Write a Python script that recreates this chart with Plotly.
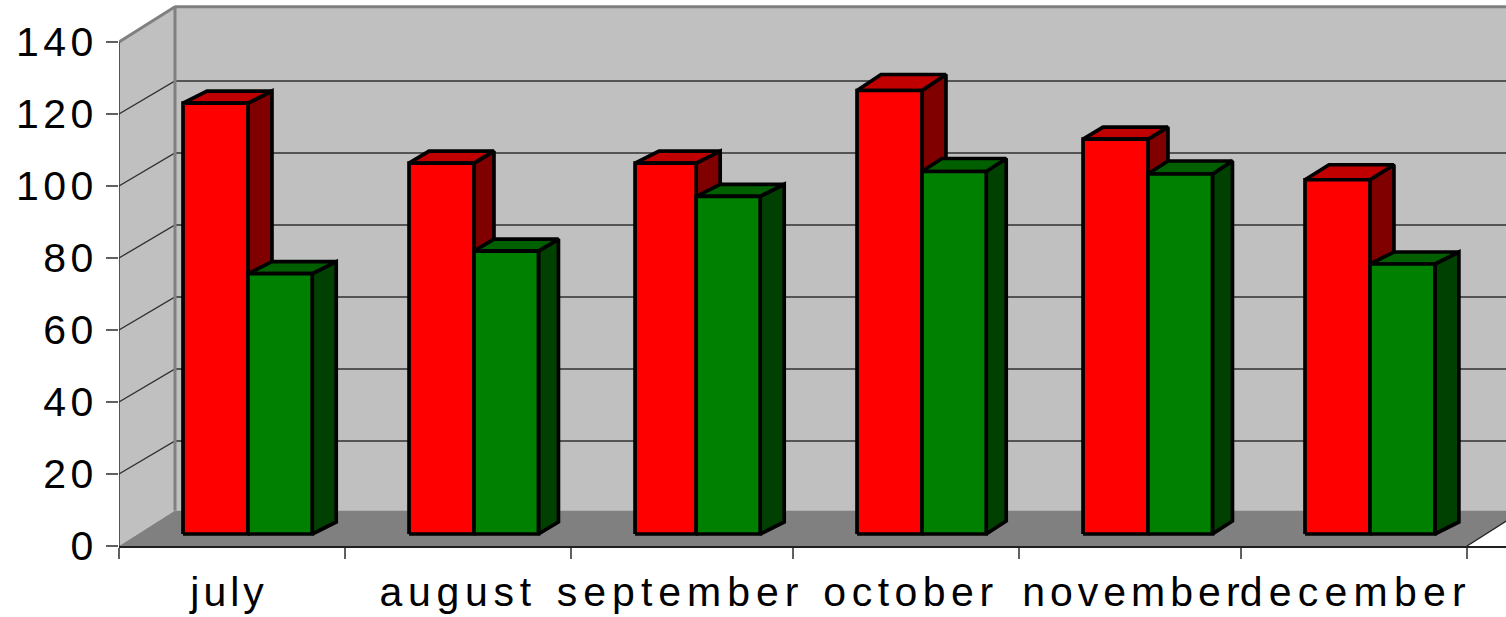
import plotly.graph_objects as go

# Data
months = ["july", "august", "september", "october", "november", "december"]
red_values = [119.7, 103, 103, 123.2, 109.7, 98.4]
green_values = [72.3, 78.6, 93.8, 100.7, 100, 75]
y_ticks = [0, 20, 40, 60, 80, 100, 120, 140]

# Category boundaries and bar geometry, in category units
cat_edges = [0, 1.006, 2.012, 3, 4.006, 4.994, 6]
label_pos = [0.49, 1.51, 2.50, 3.525, 4.515, 5.505]
bar_offset = 0.285
red_widths = [0.289, 0.289, 0.272, 0.289, 0.289, 0.289]
green_widths = [0.286, 0.287, 0.285, 0.286, 0.287, 0.289]

# Perspective offsets (pixels of depth, converted through the axis scales)
PX_X = 1348 / 6
PX_Y = 3.6
red_depth_x = [24, 20, 24, 24, 20, 24]
green_depth_x = [24, 20, 24, 20, 20, 24]
red_depth_y = [12, 12, 12, 16, 12, 15]
green_depth_y = [12, 12, 12, 13, 13, 12]
wall_dx, wall_dy = 56 / PX_X, 35.5 / PX_Y
grid_dy = 33 / PX_Y
bar_base = 12 / PX_Y
y_top = 140
wall_top = 149.8
label_spacing = [4, 5.7, 6, 5.5, 5, 6.2]
digit_spacing = 4.5

fig = go.Figure()


def poly(xs, ys, fill, line="black", width=3.7):
    fig.add_trace(go.Scatter(
        x=xs, y=ys, mode="lines", fill="toself", fillcolor=fill,
        line=dict(color=line, width=width), hoverinfo="skip", showlegend=False))


def path(xs, ys, color, width):
    fig.add_trace(go.Scatter(
        x=xs, y=ys, mode="lines", line=dict(color=color, width=width),
        hoverinfo="skip", showlegend=False))


x_far = 6 + wall_dx

# Back and side walls
poly([wall_dx, x_far, x_far, wall_dx, wall_dx],
     [wall_dy, wall_dy, wall_top, wall_top, wall_dy], "#C0C0C0", "#C0C0C0", 0)
poly([0, wall_dx, wall_dx, 0, 0],
     [0, wall_dy, wall_top, y_top, 0], "#C0C0C0", "#C0C0C0", 0)

# Gridlines on both walls
for t in y_ticks[1:-1]:
    path([0, wall_dx, x_far], [t, t + grid_dy, t + grid_dy], "#303030", 1.3)

# Floor
poly([0, wall_dx, x_far, 6, 0], [0, wall_dy, wall_dy, 0, 0], "#808080", "#808080", 0)
path([6, x_far], [0, wall_dy], "#202020", 1.3)

# Wall edges
path([0, wall_dx, wall_dx], [y_top, wall_top, wall_dy], "#808080", 3)
path([wall_dx, x_far], [wall_top, wall_top], "#808080", 3)


def bar(left, width, value, depth_x, depth_y, front, top, side):
    dx, dy = depth_x / PX_X, depth_y / PX_Y
    right = left + width
    base = bar_base
    high = base + value
    poly([right, right + dx, right + dx, right, right],
         [base, base + dy, high + dy, high, base], side)
    poly([left, left + dx, right + dx, right, left],
         [high, high + dy, high + dy, high, high], top)
    poly([left, right, right, left, left],
         [base, base, high, high, base], front)


for i in range(len(months)):
    left = cat_edges[i] + bar_offset
    bar(left, red_widths[i], red_values[i], red_depth_x[i], red_depth_y[i],
        "#FF0000", "#C00000", "#800000")
    bar(left + red_widths[i], green_widths[i], green_values[i], green_depth_x[i], green_depth_y[i],
        "#008000", "#006000", "#004000")


def spaced(s, spacing):
    return f'<span style="letter-spacing:{spacing}px">{s}</span>'


fig.update_layout(
    width=1506, height=617, autosize=False,
    margin=dict(l=119, r=0, t=0, b=71, pad=0),
    paper_bgcolor="white", plot_bgcolor="white",
    showlegend=False,
    font=dict(family="Liberation Sans, Arial, sans-serif", size=41, color="black"),
    xaxis=dict(
        range=[0, (1506 - 119) / PX_X], showgrid=False, zeroline=False,
        showline=True, linecolor="#202020", linewidth=1.5,
        tickmode="array", tickvals=label_pos,
        ticktext=[spaced(m, s) for m, s in zip(months, label_spacing)],
        ticks="", ticklabelstandoff=9, tickangle=0,
        minor=dict(tickmode="array", tickvals=cat_edges, ticks="outside", ticklen=11,
                   tickcolor="#606060", tickwidth=1.5, showgrid=False),
    ),
    yaxis=dict(
        range=[0, 546 / PX_Y], showgrid=False, zeroline=False,
        showline=False,
        tickmode="array", tickvals=y_ticks,
        ticktext=[spaced(str(t), digit_spacing) for t in y_ticks],
        ticks="outside", ticklen=12, tickcolor="#606060", tickwidth=1.5,
        ticklabelstandoff=0,
    ),
    shapes=[dict(type="line", xref="x", yref="y", x0=0, x1=0, y0=0, y1=y_top,
                 line=dict(color="#303030", width=1.5), layer="above")],
)

fig.write_html("out.html", config=dict(displayModeBar=False),
               post_script="document.body.style.margin='0';document.body.style.overflow='hidden';")
